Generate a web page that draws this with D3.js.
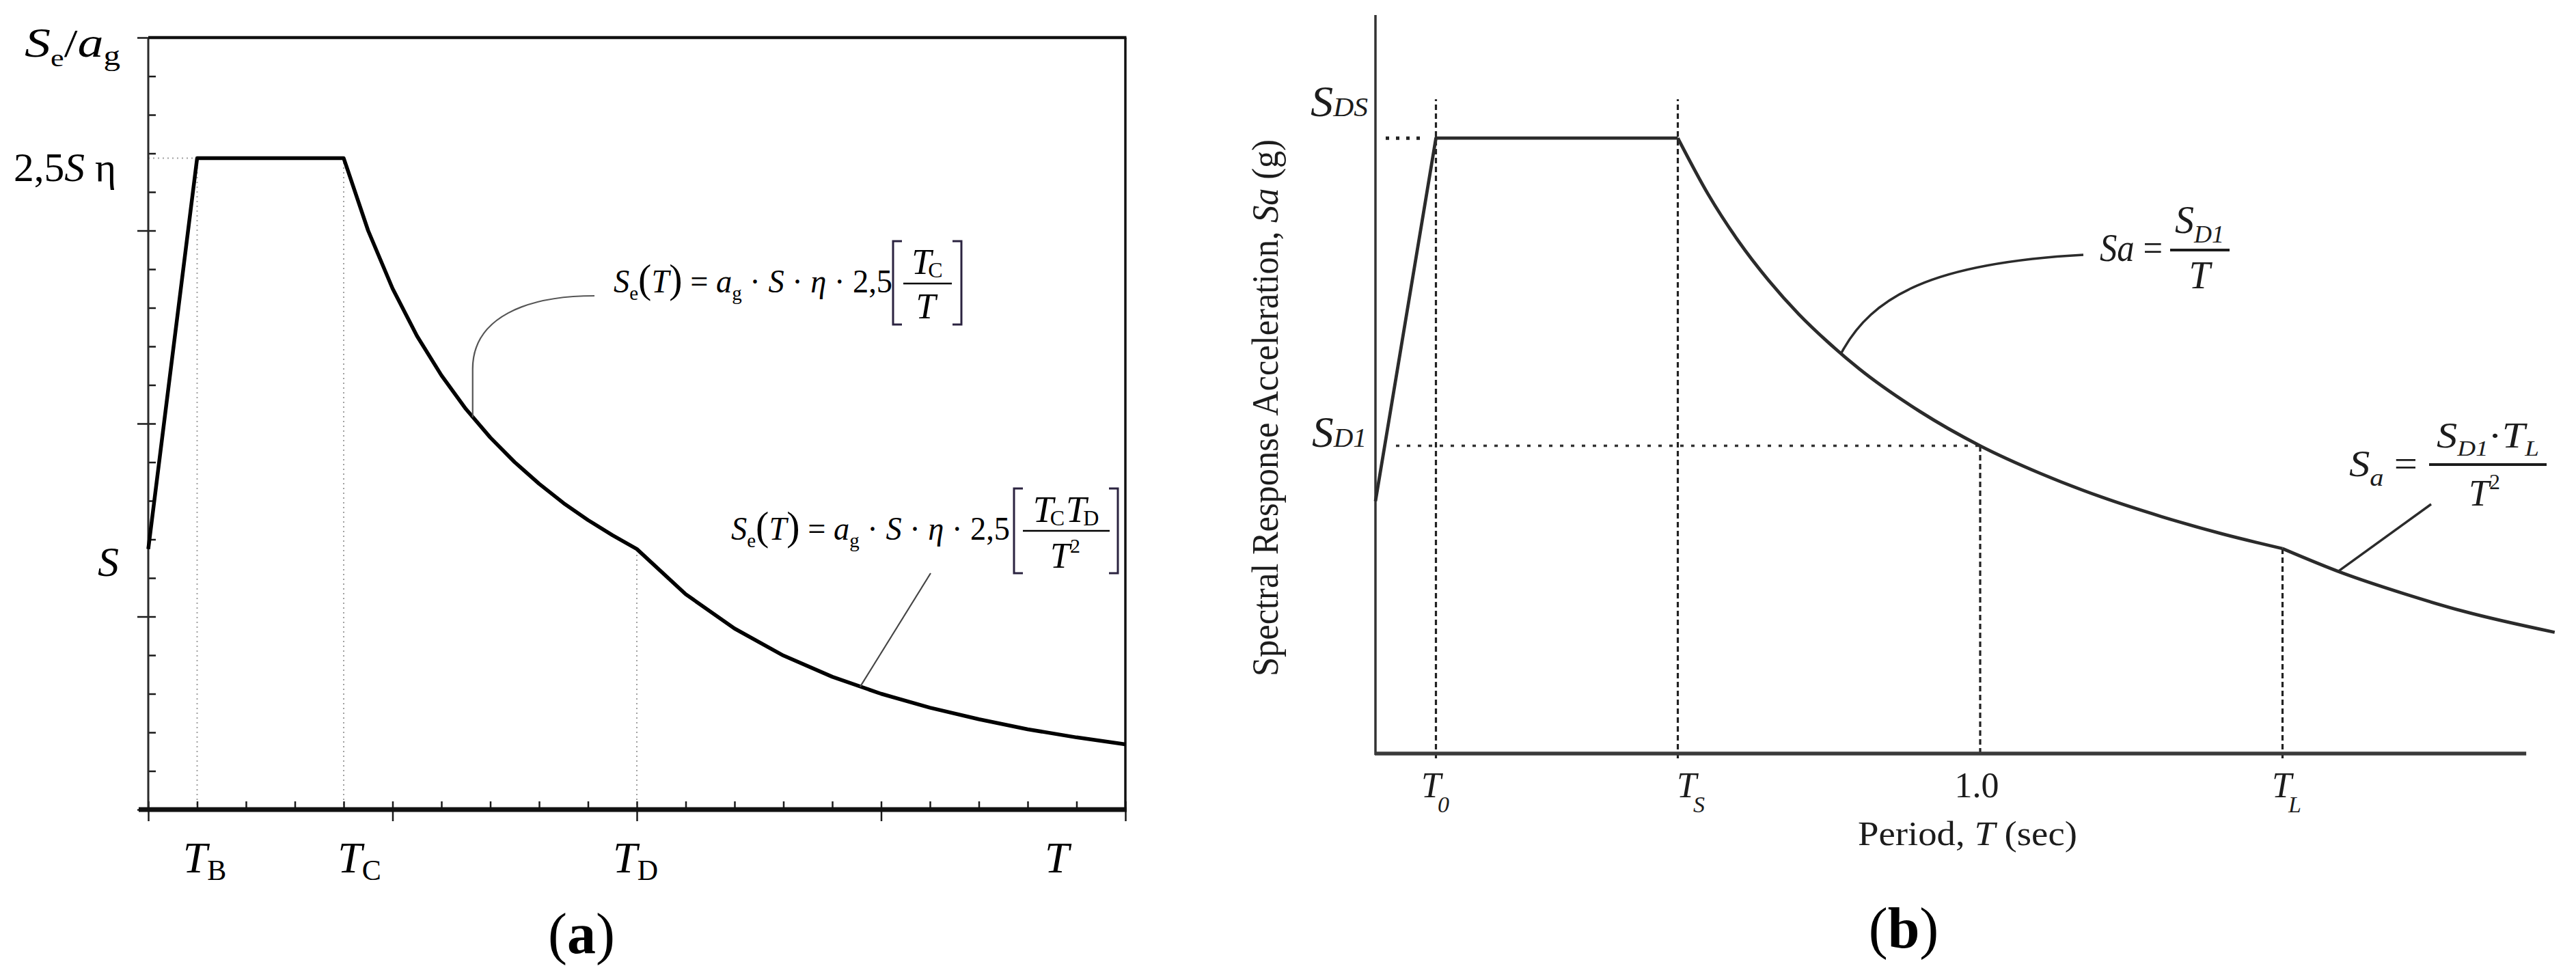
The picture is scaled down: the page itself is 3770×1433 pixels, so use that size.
<!DOCTYPE html>
<html><head><meta charset="utf-8">
<script src="https://cdn.jsdelivr.net/npm/d3@7"></script>
<style>
html,body{margin:0;padding:0;background:#fff;}
svg{display:block;}
text{font-family:"Liberation Serif","Times New Roman",serif;}
</style></head><body>
<svg id="c" width="3770" height="1433"></svg>
<script>
// ---------------- DATA ----------------
// Panel (a): EC8 elastic spectrum, values in the figure's grid units
const aT  = [0, 1, 4, 4.5, 5, 5.5, 6, 6.5, 7, 7.5, 8, 8.5, 9, 9.5, 10, 11, 12, 13, 14, 15, 16, 17, 18, 19, 20];
const aSe = [6.75, 16.875, 16.875, 15.0, 13.5, 12.27, 11.25, 10.38, 9.64, 9.0, 8.44, 7.94, 7.5, 7.11, 6.75,
             5.58, 4.69, 3.99, 3.44, 3.0, 2.64, 2.34, 2.08, 1.87, 1.69];
const aPeriodMarks = [1, 4, 10];          // T_B, T_C, T_D
const aPeriodNames = ["B", "C", "D"];
const aS = 6.75, aPlateau = 16.875;        // S and 2,5 S eta
const aMinorTicks = [0,1,2,3,4,5,6,7,8,9,10,11,12,13,14,15,16,17,18,19,20];
const aMajorTicks = [0,5,10,15,20];
const aLastLabelT = 18.6;

// Panel (b): ASCE design spectrum (SDS = 1)
const bT  = [0, 0.1, 0.5, 0.55, 0.6, 0.65, 0.7, 0.75, 0.8, 0.9, 1.0, 1.1, 1.2, 1.3, 1.4, 1.5, 1.6, 1.7, 1.8, 1.95];
const bSa = [0.41, 1.0, 1.0, 0.909, 0.833, 0.769, 0.714, 0.667, 0.625, 0.556, 0.5, 0.455, 0.417, 0.385, 0.357, 0.333,
             0.293, 0.260, 0.231, 0.197];
const bMarks = [0.1, 0.5, 1.0, 1.5];       // T0, TS, 1.0, TL
const bSDS = 1.0, bSD1 = 0.5;
const bAxisEnd = 1.903;

// ---------------- HELPERS ----------------
const svg = d3.select("#c");
svg.append("rect").attr("width",3770).attr("height",1433).attr("fill","#fff");

function rich(g, x, y, parts, opts = {}) {
  const t = g.append("text").attr("x", x).attr("y", y)
    .attr("font-size", opts.size || 48).attr("text-anchor", opts.anchor || "start")
    .attr("fill", opts.fill || "#000");
  let cur = 0;
  parts.forEach(p => {
    const off = p.dy || 0;
    const ts = t.append("tspan").text(p.t).attr("dy", off - cur);
    cur = off;
    if (p.dx) ts.attr("dx", p.dx);
    if (p.it) ts.attr("font-style", "italic");
    if (p.size) ts.attr("font-size", p.size);
    if (p.bold) ts.attr("font-weight", "bold");
  });
  if (opts.len) t.attr("textLength", opts.len).attr("lengthAdjust", "spacingAndGlyphs");
  if (opts.transform) t.attr("transform", opts.transform);
  return t;
}
function bracket(g, xL, xR, top, bot, col) {
  g.append("path").attr("d", `M${xL+13},${top}H${xL}V${bot}H${xL+13}`)
    .attr("fill","none").attr("stroke",col).attr("stroke-width",3);
  g.append("path").attr("d", `M${xR-13},${top}H${xR}V${bot}H${xR-13}`)
    .attr("fill","none").attr("stroke",col).attr("stroke-width",3);
}
const tickStyle = g => {
  g.select(".domain").remove(); g.selectAll("text").remove();
  g.selectAll("line").attr("stroke","#1a1a1a").attr("stroke-width",2.5);
};

// ---------------- PANEL (a) ----------------
const xA = d3.scaleLinear().domain([0,20]).range([217,1647]);
const yA = d3.scaleLinear().domain([0,20]).range([1185,55]);
const A = svg.append("g");
const seAt = t => aSe[aT.indexOf(t)];

// dotted guides
A.selectAll("line.guide").data(aPeriodMarks).join("line").attr("class","guide")
  .attr("x1",d=>xA(d)).attr("x2",d=>xA(d)).attr("y1",yA(0)).attr("y2",d=>yA(seAt(d)))
  .attr("stroke","#a0a0a0").attr("stroke-width",2).attr("stroke-dasharray","2,5");
A.append("line").attr("x1",xA(0)).attr("x2",xA(aPeriodMarks[0])).attr("y1",yA(aPlateau)).attr("y2",yA(aPlateau))
  .attr("stroke","#a0a0a0").attr("stroke-width",2).attr("stroke-dasharray","2,5");

// ticks
A.append("g").attr("transform",`translate(${xA(0)},0)`).call(d3.axisRight(yA).tickValues(aMinorTicks).tickSize(11)).call(tickStyle);
A.append("g").attr("transform",`translate(${xA(0)},0)`).call(d3.axisLeft(yA).tickValues(aMajorTicks).tickSize(16)).call(tickStyle);
A.append("g").attr("transform",`translate(0,${yA(0)})`).call(d3.axisTop(xA).tickValues(aMinorTicks).tickSize(12)).call(tickStyle);
A.append("g").attr("transform",`translate(0,${yA(0)})`).call(d3.axisBottom(xA).tickValues(aMajorTicks).tickSize(17)).call(tickStyle);

// frame
A.append("line").attr("x1",xA(0)).attr("x2",xA(0)).attr("y1",yA(20)).attr("y2",yA(0)).attr("stroke","#2a2a2a").attr("stroke-width",3);
A.append("line").attr("x1",xA(0)).attr("x2",xA(20)+1.5).attr("y1",yA(20)).attr("y2",yA(20)).attr("stroke","#111").attr("stroke-width",4.5);
A.append("line").attr("x1",xA(20)).attr("x2",xA(20)).attr("y1",yA(20)).attr("y2",yA(0)).attr("stroke","#111").attr("stroke-width",3.5);
A.append("line").attr("x1",xA(0)-14).attr("x2",xA(20)+2).attr("y1",yA(0)).attr("y2",yA(0)).attr("stroke","#111").attr("stroke-width",7);

// spectrum curve
A.append("path").datum(aT.map((t,i)=>[t,aSe[i]]))
  .attr("d", d3.line().x(d=>xA(d[0])).y(d=>yA(d[1])))
  .attr("fill","none").attr("stroke","#000").attr("stroke-width",5.5).attr("stroke-linejoin","round");

// axis labels (a)
rich(A, 36, 83, [{t:"S",it:1},{t:"e",size:36,dy:14},{t:"/",size:58},{t:"a",it:1},{t:"g",size:40,dy:12}], {size:62, len:140});
rich(A, 20, yA(aPlateau)+33, [{t:"2,5"},{t:"S",it:1},{t:" η"}], {size:60, len:150});
rich(A, 143, yA(aS)+39, [{t:"S",it:1}], {size:62});
const aLabOff = [11, 23, -2];
aPeriodMarks.forEach((m,i)=>{
  rich(A, xA(m)+aLabOff[i], 1277, [{t:"T",it:1},{t:aPeriodNames[i],size:42,dy:11}], {size:64, anchor:"middle"});
});
rich(A, xA(aLastLabelT), 1277, [{t:"T",it:1}], {size:64, anchor:"middle"});
rich(A, 851, 1395, [{t:"("},{t:"a",bold:1},{t:")"}], {size:84, anchor:"middle"});

// formula 1 (a)
const eqParts = [{t:"S",it:1},{t:"e",size:30,dy:11},{t:"(",size:60},{t:"T",it:1},{t:")",size:60},{t:" = "},
  {t:"a",it:1},{t:"g",size:30,dy:11},{t:" · "},{t:"S",it:1},{t:" · "},{t:"η",it:1},{t:" · 2,5"}];
rich(A, 898, 428, eqParts, {size:48, len:408});
bracket(A, 1307, 1407, 353, 475, "#2b2340");
A.append("line").attr("x1",1322).attr("x2",1393).attr("y1",415).attr("y2",415).attr("stroke","#000").attr("stroke-width",2.5);
rich(A, 1357, 401, [{t:"T",it:1},{t:"C",size:32,dy:5,dx:-5}], {size:52, anchor:"middle"});
rich(A, 1355, 466, [{t:"T",it:1}], {size:52, anchor:"middle"});
// leader 1
const l1e = [6.64, 67.5/6.64];
A.append("path").attr("d", `M870,433C770,433 ${xA(l1e[0])},465 ${xA(l1e[0])},540L${xA(l1e[0])},${yA(l1e[1])}`)
  .attr("fill","none").attr("stroke","#555").attr("stroke-width",2.2);

// formula 2 (a)
rich(A, 1070, 790, eqParts, {size:48, len:408});
bracket(A, 1484, 1636, 715, 839, "#2b2340");
A.append("line").attr("x1",1497).attr("x2",1624).attr("y1",777).attr("y2",777).attr("stroke","#000").attr("stroke-width",2.5);
rich(A, 1560, 764, [{t:"T",it:1},{t:"C",size:32,dy:5,dx:-5},{t:"T",it:1,dx:2},{t:"D",size:32,dy:5,dx:-5}], {size:54, anchor:"middle"});
rich(A, 1559, 831, [{t:"T",it:1},{t:"2",size:30,dy:-22}], {size:52, anchor:"middle"});
// leader 2
const l2e = [14.57, 675/(14.57*14.57)];
A.append("line").attr("x1",1362).attr("y1",839).attr("x2",xA(l2e[0])).attr("y2",yA(l2e[1]))
  .attr("stroke","#444").attr("stroke-width",2.2);

// ---------------- PANEL (b) ----------------
const xB = d3.scaleLinear().domain([0,1]).range([2013,2898]);
const yB = d3.scaleLinear().domain([0,1.2]).range([1103,22]);
const B = svg.append("g");
const ink = "#1c1c1c";
const saAt = t => bSa[bT.indexOf(t)];

// dashed verticals
const dashTop = [yB(bSDS)-57, yB(bSDS)-57, yB(bSD1), yB(saAt(1.5))];
const dashBot = [yB(0)+7, yB(0)+7, yB(0), yB(0)+7];
B.selectAll("line.vd").data(bMarks).join("line").attr("class","vd")
  .attr("x1",d=>xB(d)).attr("x2",d=>xB(d)).attr("y1",(d,i)=>dashBot[i]).attr("y2",(d,i)=>dashTop[i])
  .attr("stroke","#222").attr("stroke-width",3.2).attr("stroke-dasharray","8,5");
// SD1 dotted horizontal and SDS dots
B.append("line").attr("x1",xB(0)+30).attr("x2",xB(1.0)).attr("y1",yB(bSD1)).attr("y2",yB(bSD1))
  .attr("stroke","#333").attr("stroke-width",3.5).attr("stroke-dasharray","5,11");
B.append("line").attr("x1",xB(0)+15).attr("x2",xB(0.1)-20).attr("y1",yB(bSDS)).attr("y2",yB(bSDS))
  .attr("stroke","#222").attr("stroke-width",5).attr("stroke-dasharray","5,10");

// axes
B.append("line").attr("x1",xB(0)).attr("x2",xB(0)).attr("y1",yB(1.2)).attr("y2",yB(0)+2).attr("stroke","#333").attr("stroke-width",3.5);
B.append("line").attr("x1",xB(0)-1).attr("x2",xB(bAxisEnd)).attr("y1",yB(0)).attr("y2",yB(0)).attr("stroke","#3a3a3a").attr("stroke-width",5.5);

// curve segments
const pts = bT.map((t,i)=>[t,bSa[i]]);
const lnB = d3.line().x(d=>xB(d[0])).y(d=>yB(d[1]));
B.append("path").datum(pts.slice(0,3)).attr("d", lnB)
  .attr("fill","none").attr("stroke","#2b2b2b").attr("stroke-width",4.8).attr("stroke-linejoin","round");
B.append("path").datum(pts.slice(2,16)).attr("d", lnB.curve(d3.curveMonotoneX))
  .attr("fill","none").attr("stroke","#2b2b2b").attr("stroke-width",4.8);
B.append("path").datum(pts.slice(15)).attr("d", lnB.curve(d3.curveMonotoneX))
  .attr("fill","none").attr("stroke","#2b2b2b").attr("stroke-width",4.8);

// labels (b)
rich(B, 1918, 170, [{t:"S",it:1},{t:"DS",it:1,size:40}], {size:64, len:84, fill:ink});
rich(B, 1920, 654, [{t:"S",it:1},{t:"D1",it:1,size:40}], {size:64, len:80, fill:ink});
rich(B, 0, 0, [{t:"Spectral Response Acceleration, "},{t:"Sa",it:1},{t:" (g)"}],
     {size:54, anchor:"middle", len:786, fill:ink, transform:"translate(1870,597) rotate(-90)"});
const bLab = [
  {x:xB(0.1)-1, parts:[{t:"T",it:1},{t:"0",it:1,size:34,dy:22,dx:-5}]},
  {x:xB(0.5)+19, parts:[{t:"T",it:1},{t:"S",it:1,size:34,dy:22,dx:-5}]},
  {x:xB(1.0)-5, parts:[{t:"1.0"}]},
  {x:xB(1.5)+6, parts:[{t:"T",it:1},{t:"L",it:1,size:34,dy:22,dx:-5}]}
];
bLab.forEach(l => rich(B, l.x, 1167, l.parts, {size:52, anchor:"middle", fill:ink}));
rich(B, 2719, 1237, [{t:"Period, "},{t:"T",it:1},{t:" (sec)"}], {size:50, len:321, fill:ink});
rich(B, 2786, 1387, [{t:"("},{t:"b",bold:1},{t:")"}], {size:84, anchor:"middle"});

// formula b1: Sa = SD1 / T
rich(B, 3073, 382, [{t:"S",it:1},{t:"a",it:1},{t:" ="}], {size:56, len:92, fill:ink});
B.append("line").attr("x1",3176).attr("x2",3263).attr("y1",366).attr("y2",366).attr("stroke",ink).attr("stroke-width",4);
rich(B, 3219, 341, [{t:"S",it:1},{t:"D1",it:1,size:36,dy:14}], {size:56, anchor:"middle", fill:ink});
rich(B, 3219, 422, [{t:"T",it:1}], {size:56, anchor:"middle", fill:ink});
const lb1 = [0.77, 0.65];
B.append("path").attr("d", `M3049,373C2829,385 ${xB(lb1[0])+45},${yB(lb1[1])-85} ${xB(lb1[0])},${yB(lb1[1])}`)
  .attr("fill","none").attr("stroke","#2b2b2b").attr("stroke-width",3.5);

// formula b2: Sa = SD1*TL / T^2
rich(B, 3438, 697, [{t:"S",it:1},{t:"a",it:1,size:36,dy:14},{t:" ="}], {size:54, len:100, fill:ink});
B.append("line").attr("x1",3555).attr("x2",3727).attr("y1",680).attr("y2",680).attr("stroke",ink).attr("stroke-width",4);
rich(B, 3641, 655, [{t:"S",it:1},{t:"D1",it:1,size:32,dy:12},{t:"·"},{t:"T",it:1},{t:"L",it:1,size:32,dy:12}],
     {size:52, anchor:"middle", len:150, fill:ink});
rich(B, 3636, 740, [{t:"T",it:1},{t:"2",size:32,dy:-24}], {size:54, anchor:"middle", fill:ink});
const lb2 = [1.592, 0.296];
B.append("line").attr("x1",3558).attr("y1",738).attr("x2",xB(lb2[0])).attr("y2",yB(lb2[1]))
  .attr("stroke","#2b2b2b").attr("stroke-width",3.5);
</script>
</body></html>
